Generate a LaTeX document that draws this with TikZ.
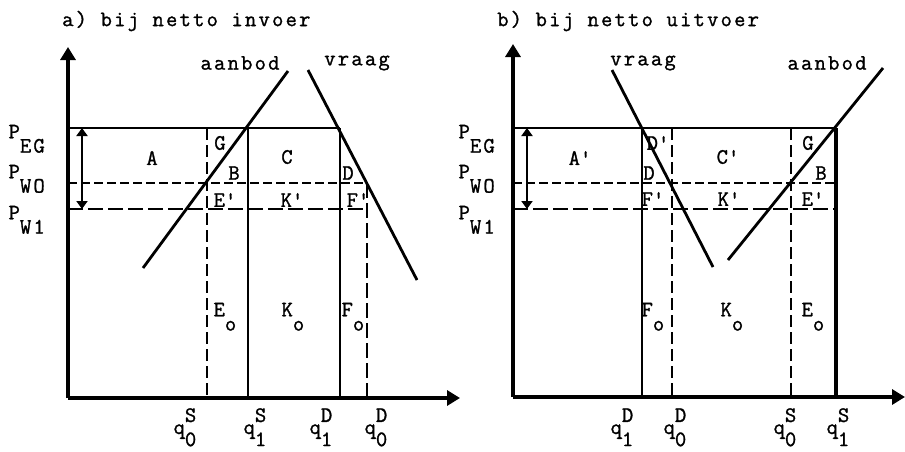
\documentclass[tikz,border=0pt]{standalone}
\usepackage{fontspec}
\setmainfont{Latin Modern Mono}[LetterSpace=10, FakeBold=1.2]
\usepackage{tikz}
\usetikzlibrary{arrows.meta}

\newcommand{\lowtxt}[2]{#1\raisebox{-0.65em}{#2}}
\newcommand{\qtxt}[2]{q\rlap{\raisebox{0.55em}{#1}}\raisebox{-0.55em}{#2}}
\newcommand{\pr}{\textquotesingle}

\begin{document}
\begin{tikzpicture}[x=1pt, y=-1pt,
    axisline/.style={line width=3.2pt, -{Triangle[length=13pt, width=15pt]}},
    curveline/.style={line width=2.8pt},
    solidline/.style={line width=2.5pt},
    pwoline/.style={line width=2pt, dash pattern=on 9pt off 4pt},
    pwiline/.style={line width=2.8pt, dash pattern=on 15pt off 5pt},
    qdash/.style={line width=2.3pt, dash pattern=on 12pt off 5pt},
    shiftarrow/.style={line width=2.2pt,
        {Triangle[length=8pt, width=11pt]}-{Triangle[length=8pt, width=11pt]}},
    lab/.style={inner sep=0pt, font=\fontsize{22}{22}\selectfont},
    sublab/.style={lab, anchor=base west},
]
    \useasboundingbox (0,0) rectangle (905,451);

    % a) bij netto invoer
    \node[lab, anchor=west] (atitle) at (62,21) {a) bij netto invoer};
    \coordinate (ao)   at (68,398);
    \coordinate (aytop) at (68,47);
    \coordinate (axend) at (460,398);
    \coordinate (aeg)  at (68,128);
    \coordinate (awo)  at (68,183);
    \coordinate (awi)  at (68,209);
    \coordinate (aq0s) at (207,398);
    \coordinate (aq1s) at (248,398);
    \coordinate (aq1d) at (340,398);
    \coordinate (aq0d) at (367,398);
    \coordinate (asup0) at (143,268);
    \coordinate (asup1) at (288,71);
    \coordinate (adem0) at (308,70);
    \coordinate (adem1) at (417,280);

    \draw[axisline] (ao) -- (aytop);
    \draw[axisline] (ao) -- (axend);
    \draw[solidline] (aeg) -- (aeg -| aq1d);
    \draw[pwoline] (awo) -- (awo -| aq0d);
    \draw[pwiline] (awi) -- (awi -| aq0d);
    \draw[qdash] (aeg -| aq0s) -- (aq0s);
    \draw[solidline] (aeg -| aq1s) -- (aq1s);
    \draw[solidline] (aeg -| aq1d) -- (aq1d);
    \draw[pwiline] (awo -| aq0d) -- (aq0d);
    \draw[curveline] (asup0) -- (asup1);
    \draw[curveline] (adem0) -- (adem1);
    \draw[shiftarrow] ([xshift=14pt]aeg) -- ([xshift=14pt]awi);

    \node[lab] (asuplab) at (240,63) {aanbod};
    \node[lab] (ademlab) at (357,63) {vraag};
    \node[sublab] (apeg) at (8.4,138.3) {\lowtxt{P}{EG}};
    \node[sublab] (apwo) at (8.4,178.3) {\lowtxt{P}{WO}};
    \node[sublab] (apwi) at (8.4,219.3) {\lowtxt{P}{W1}};
    \node[lab] (aA) at (152,158) {A};
    \node[lab] (aG) at (220,143) {G};
    \node[lab] (aB) at (234,173) {B};
    \node[lab] (aC) at (287,157) {C};
    \node[lab] (aD) at (348,173) {D};
    \node[lab] (aE) at (225,200) {E\pr};
    \node[lab] (aK) at (292,200) {K\pr};
    \node[lab] (aF) at (358,200) {F\pr};
    \node[sublab] (aEo) at (213.4,316.3) {\lowtxt{E}{o}};
    \node[sublab] (aKo) at (281.4,316.3) {\lowtxt{K}{o}};
    \node[sublab] (aFo) at (341.4,316.3) {\lowtxt{F}{o}};
    \node[sublab] (aqa) at (173.4,434) {\qtxt{S}{0}};
    \node[sublab] (aqb) at (243.4,434) {\qtxt{S}{1}};
    \node[sublab] (aqc) at (309.4,434) {\qtxt{D}{1}};
    \node[sublab] (aqd) at (364.4,434) {\qtxt{D}{0}};

    % b) bij netto uitvoer
    \node[lab, anchor=west] (btitle) at (497,21) {b) bij netto uitvoer};
    \coordinate (bo)   at (513,397);
    \coordinate (bytop) at (513,44);
    \coordinate (bxend) at (905,397);
    \coordinate (beg)  at (513,128);
    \coordinate (bwo)  at (513,183);
    \coordinate (bwi)  at (513,209);
    \coordinate (bq1d) at (642,397);
    \coordinate (bq0d) at (672,397);
    \coordinate (bq0s) at (791,397);
    \coordinate (bq1s) at (836,397);
    \coordinate (bdem0) at (612,70);
    \coordinate (bdem1) at (713,267);
    \coordinate (bsup0) at (883,68);
    \coordinate (bsup1) at (728,260);

    \draw[axisline] (bo) -- (bytop);
    \draw[axisline] (bo) -- (bxend);
    \draw[solidline] (beg) -- (beg -| bq1s);
    \draw[pwoline] (bwo) -- (bwo -| bq1s);
    \draw[pwiline] (bwi) -- (bwi -| bq1s);
    \draw[solidline] (beg -| bq1d) -- (bq1d);
    \draw[qdash] (beg -| bq0d) -- (bq0d);
    \draw[qdash] (beg -| bq0s) -- (bq0s);
    \draw[line width=3.2pt] (beg -| bq1s) -- (bq1s);
    \draw[curveline] (bdem0) -- (bdem1);
    \draw[curveline] (bsup0) -- (bsup1);
    \draw[shiftarrow] ([xshift=14pt]beg) -- ([xshift=14pt]bwi);

    \node[lab] (bdemlab) at (643,63) {vraag};
    \node[lab] (bsuplab) at (827,63) {aanbod};
    \node[sublab] (bpeg) at (458.4,138.3) {\lowtxt{P}{EG}};
    \node[sublab] (bpwo) at (458.4,178.3) {\lowtxt{P}{WO}};
    \node[sublab] (bpwi) at (458.4,219.3) {\lowtxt{P}{W1}};
    \node[lab] (bA) at (580,158) {A\pr};
    \node[lab] (bDp) at (658,143) {D\pr};
    \node[lab] (bC) at (728,157) {C\pr};
    \node[lab] (bG) at (808,143) {G};
    \node[lab] (bD) at (649,173) {D};
    \node[lab] (bB) at (821,173) {B};
    \node[lab] (bF) at (653,199) {F\pr};
    \node[lab] (bK) at (729,199) {K\pr};
    \node[lab] (bE) at (813,199) {E\pr};
    \node[sublab] (bFo) at (641.4,316.3) {\lowtxt{F}{o}};
    \node[sublab] (bKo) at (720.4,316.3) {\lowtxt{K}{o}};
    \node[sublab] (bEo) at (801.4,316.3) {\lowtxt{E}{o}};
    \node[sublab] (bqa) at (610.4,434) {\qtxt{D}{1}};
    \node[sublab] (bqb) at (663.4,434) {\qtxt{D}{0}};
    \node[sublab] (bqc) at (773.4,434) {\qtxt{S}{0}};
    \node[sublab] (bqd) at (826.4,434) {\qtxt{S}{1}};
\end{tikzpicture}
\end{document}
